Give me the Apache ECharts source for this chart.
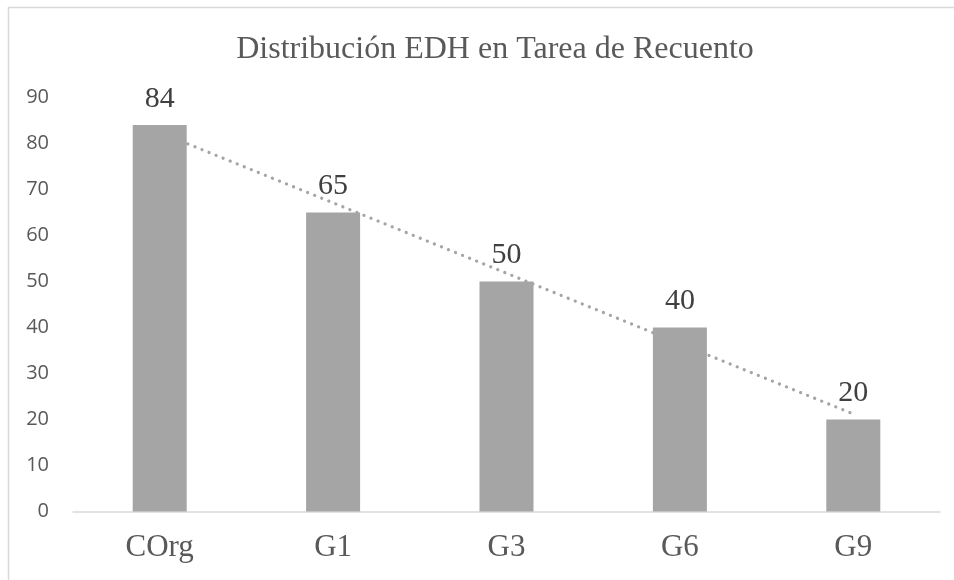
<!DOCTYPE html>
<html>
<head>
<meta charset="utf-8">
<script src="https://cdn.jsdelivr.net/npm/echarts@6/dist/echarts.min.js"></script>
<style>
  html, body { margin: 0; padding: 0; background: #ffffff; }
  #chart { width: 954px; height: 580px; }
</style>
</head>
<body>
<div id="chart"></div>
<script>
// data
const categories = ["COrg", "G1", "G3", "G6", "G9"];
const values = [84, 65, 50, 40, 20];
const yTicks = [0, 10, 20, 30, 40, 50, 60, 70, 80, 90];

// linear trendline (least squares over category index), like the spreadsheet one
function trend(ys) {
  const n = ys.length;
  let sx = 0, sy = 0, sxy = 0, sxx = 0;
  ys.forEach((y, i) => {
    const x = i + 1;
    sx += x; sy += y; sxy += x * y; sxx += x * x;
  });
  const slope = (n * sxy - sx * sy) / (n * sxx - sx * sx);
  const icpt = (sy - slope * sx) / n;
  return ys.map((y, i) => +(icpt + slope * (i + 1)).toFixed(3));
}
const trendValues = trend(values);

const serif = "'Liberation Serif', 'Times New Roman', serif";
const sans = "'Open Sans', 'Noto Sans', sans-serif";

let myChart = echarts.init(document.getElementById("chart"));
myChart.setOption({
  animation: false,
  backgroundColor: "#ffffff",
  graphic: [
    {
      type: "rect",
      shape: { x: 8.5, y: 7.5, width: 1000, height: 700 },
      style: { fill: "none", stroke: "#d9d9d9", lineWidth: 1.5 },
      silent: true,
    },
  ],
  title: {
    text: "Distribución EDH en Tarea de Recuento",
    left: 490,
    top: 29,
    textAlign: "center",
    textStyle: {
      color: "#595959",
      fontFamily: serif,
      fontWeight: "normal",
      fontSize: 32,
    },
  },
  grid: {
    left: 73,
    right: 14,
    top: 97.5,
    bottom: 68.5,
    containLabel: false,
  },
  xAxis: {
    type: "category",
    data: categories,
    axisTick: { show: false },
    axisLine: { lineStyle: { color: "#d9d9d9", width: 1.5 } },
    axisLabel: {
      color: "#595959",
      fontFamily: serif,
      fontSize: 31,
      margin: 21,
    },
  },
  yAxis: {
    type: "value",
    min: yTicks[0],
    max: yTicks[yTicks.length - 1],
    interval: 10,
    axisLine: { show: false },
    axisTick: { show: false },
    splitLine: { show: false },
    axisLabel: {
      color: "#595959",
      fontFamily: sans,
      fontSize: 20,
      margin: 24,
    },
  },
  series: [
    {
      name: "Tendencia",
      type: "line",
      data: trendValues,
      z: 1,
      symbol: "none",
      lineStyle: {
        color: "#a5a5a5",
        width: 3.2,
        type: [0.1, 7.5],
        cap: "round",
      },
    },
    {
      name: "EDH",
      type: "bar",
      data: values,
      z: 2,
      barWidth: 54,
      itemStyle: { color: "#a5a5a5" },
      label: {
        show: true,
        position: "top",
        distance: 11,
        color: "#404040",
        fontFamily: serif,
        fontSize: 30,
      },
    },
  ],
});
</script>
</body>
</html>
